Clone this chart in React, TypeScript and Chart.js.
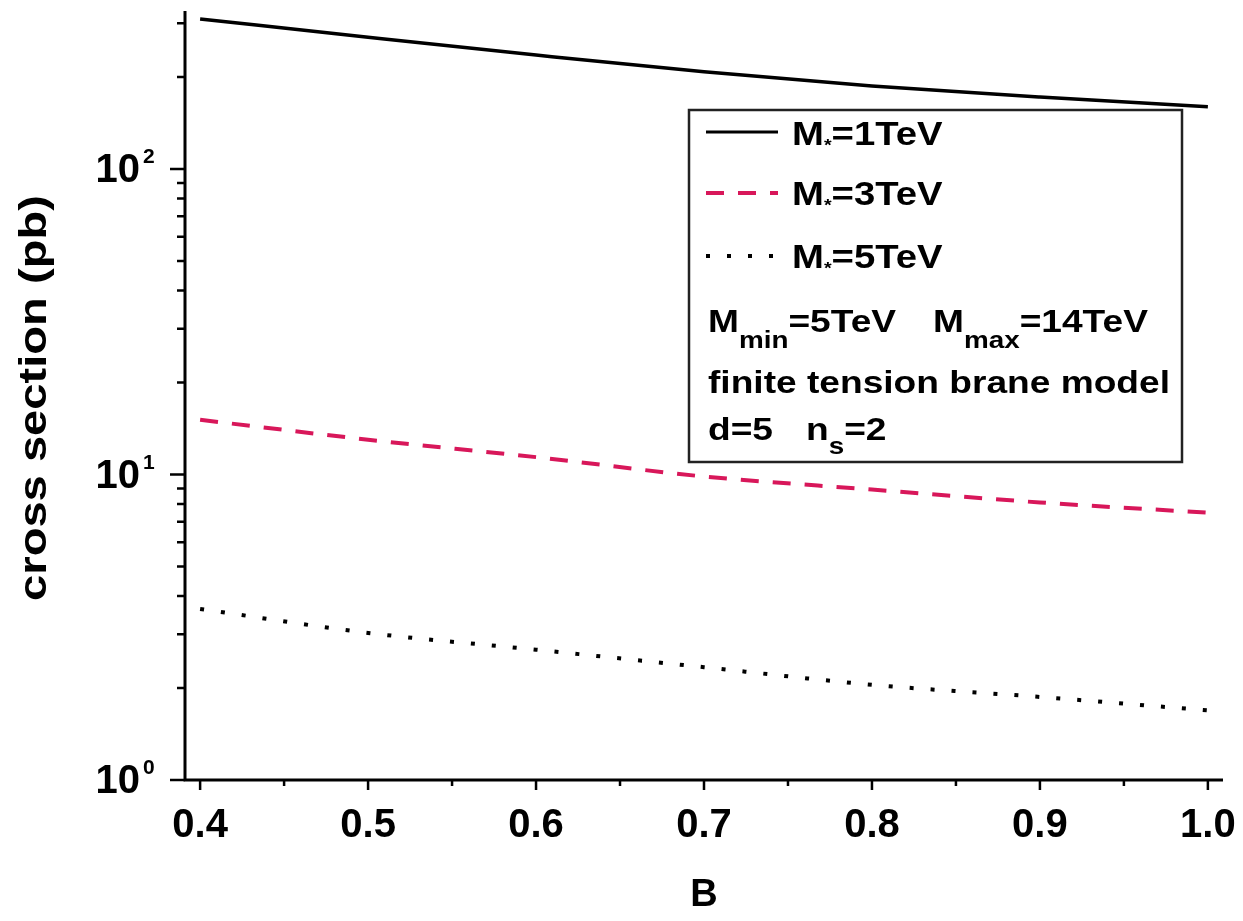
import React, { useEffect, useRef } from 'react';
import { Chart, registerables } from 'chart.js';

Chart.register(...registerables);

// ---- data ----
const bValues = [0.4, 0.5, 0.6, 0.7, 0.8, 0.9, 1.0];
const sigmaM1 = [310, 270, 236, 208, 187, 172, 160];
const sigmaM3 = [15.1, 13.0, 11.4, 9.85, 8.93, 8.1, 7.5];
const sigmaM5 = [3.63, 3.03, 2.67, 2.34, 2.05, 1.87, 1.69];

const xMin = 0.391;
const xMax = 1.009;
const yMin = 1;
const yMax = 329;

const xMajorTicks = [0.4, 0.5, 0.6, 0.7, 0.8, 0.9, 1.0];
const xMajorLabels = ['0.4', '0.5', '0.6', '0.7', '0.8', '0.9', '1.0'];
const xMinorTicks = [0.45, 0.55, 0.65, 0.75, 0.85, 0.95];
const yDecades = [1, 10, 100];
const yDecadeExponents = ['0', '1', '2'];
const ySignificands = [1, 2, 3, 4, 5, 6, 7, 8, 9];

const xTitle = 'B';
const yTitle = 'cross section (pb)';
const seriesNames = ['=1TeV', '=3TeV', '=5TeV'];

const FONT = '"Liberation Sans", Arial, Helvetica, sans-serif';

function drawRun(ctx: CanvasRenderingContext2D, x: number, baseline: number, sx: number, parts: { t: string; size: number; dy?: number }[]) {
  ctx.save();
  ctx.translate(x, baseline);
  ctx.scale(sx, 1);
  let cx = 0;
  for (const p of parts) {
    ctx.font = `bold ${p.size}px ${FONT}`;
    ctx.textAlign = 'left';
    ctx.textBaseline = 'alphabetic';
    ctx.fillText(p.t, cx, p.dy || 0);
    cx += ctx.measureText(p.t).width;
  }
  ctx.restore();
}

const decorPlugin = {
  id: 'decor',
  afterDraw(chart: any) {
    const ctx: CanvasRenderingContext2D = chart.ctx;
    const xs = chart.scales.x;
    const ys = chart.scales.y;
    const ca = chart.chartArea;
    ctx.save();
    ctx.strokeStyle = '#000';
    ctx.fillStyle = '#000';

    // axes
    ctx.lineWidth = 3;
    ctx.beginPath();
    ctx.moveTo(ca.left, ca.top);
    ctx.lineTo(ca.left, ca.bottom + 1.5);
    ctx.moveTo(ca.left - 1.5, ca.bottom);
    ctx.lineTo(ca.right, ca.bottom);
    ctx.stroke();

    // y ticks
    ctx.lineWidth = 2.5;
    ctx.beginPath();
    for (const d of yDecades) {
      for (const s of ySignificands) {
        const v = s * d;
        if (v > yMax) break;
        const py = ys.getPixelForValue(v);
        const len = s === 1 ? 15 : 8;
        ctx.moveTo(ca.left, py);
        ctx.lineTo(ca.left - len, py);
      }
    }
    // x ticks
    for (const v of xMajorTicks) {
      const px = xs.getPixelForValue(v);
      ctx.moveTo(px, ca.bottom);
      ctx.lineTo(px, ca.bottom + 10);
    }
    for (const v of xMinorTicks) {
      const px = xs.getPixelForValue(v);
      ctx.moveTo(px, ca.bottom);
      ctx.lineTo(px, ca.bottom + 6);
    }
    ctx.stroke();

    // x tick labels
    ctx.font = `bold 40px ${FONT}`;
    ctx.textAlign = 'center';
    ctx.textBaseline = 'middle';
    xMajorTicks.forEach((v, i) => {
      ctx.fillText(xMajorLabels[i], xs.getPixelForValue(v), ca.bottom + 46);
    });

    // y tick labels 10^n
    yDecades.forEach((d, i) => {
      const py = ys.getPixelForValue(d);
      ctx.font = `bold 40px ${FONT}`;
      ctx.textAlign = 'right';
      ctx.textBaseline = 'middle';
      ctx.fillText('10', 140, py + 2);
      ctx.font = `bold 21px ${FONT}`;
      ctx.textAlign = 'left';
      ctx.textBaseline = 'top';
      ctx.fillText(yDecadeExponents[i], 143, py - 22);
    });

    // y title
    ctx.save();
    ctx.translate(46, 398);
    ctx.rotate(-Math.PI / 2);
    ctx.scale(1.24, 1);
    ctx.font = `bold 38px ${FONT}`;
    ctx.textAlign = 'center';
    ctx.textBaseline = 'alphabetic';
    ctx.fillText(yTitle, 0, 0);
    ctx.restore();

    // legend box
    ctx.lineWidth = 2.5;
    ctx.strokeStyle = '#222';
    ctx.strokeRect(689, 110, 493, 352);

    // legend samples
    const sampleY = [132, 193, 256];
    const styles = [
      { c: '#000', w: 3, d: [] as number[] },
      { c: '#d8175a', w: 4, d: [18, 14] },
      { c: '#000', w: 4, d: [4, 17] },
    ];
    styles.forEach((st, i) => {
      ctx.beginPath();
      ctx.strokeStyle = st.c;
      ctx.lineWidth = st.w;
      ctx.setLineDash(st.d);
      ctx.moveTo(706, sampleY[i]);
      ctx.lineTo(778, sampleY[i]);
      ctx.stroke();
    });
    ctx.setLineDash([]);

    const sx = 1.16;
    const baselines = [145, 205, 268];
    seriesNames.forEach((nm, i) => {
      drawRun(ctx, 792, baselines[i], sx, [
        { t: 'M', size: 33 },
        { t: '*', size: 17, dy: 6 },
        { t: nm, size: 33 },
      ]);
    });
    drawRun(ctx, 708, 332, sx, [
      { t: 'M', size: 32 },
      { t: 'min', size: 24, dy: 16 },
      { t: '=5TeV', size: 32 },
    ]);
    drawRun(ctx, 933, 332, sx, [
      { t: 'M', size: 32 },
      { t: 'max', size: 24, dy: 16 },
      { t: '=14TeV', size: 32 },
    ]);
    drawRun(ctx, 708, 393, sx, [{ t: 'finite tension brane model', size: 32 }]);
    drawRun(ctx, 708, 440, sx, [{ t: 'd=5', size: 32 }]);
    drawRun(ctx, 806, 440, sx, [
      { t: 'n', size: 32 },
      { t: 's', size: 24, dy: 14 },
      { t: '=2', size: 32 },
    ]);

    ctx.restore();
  },
};

export default function App() {
  const ref = useRef<HTMLCanvasElement | null>(null);
  useEffect(() => {
    if (!ref.current) return;
    const mk = (ys: number[]) => bValues.map((x, i) => ({ x, y: ys[i] }));
    const chart = new Chart(ref.current, {
      type: 'line',
      data: {
        datasets: [
          { label: 'M*=1TeV', data: mk(sigmaM1), borderColor: '#000', borderWidth: 3.5, pointRadius: 0, cubicInterpolationMode: 'monotone', fill: false },
          { label: 'M*=3TeV', data: mk(sigmaM3), borderColor: '#d8175a', borderWidth: 4, borderDash: [18, 14], pointRadius: 0, cubicInterpolationMode: 'monotone', fill: false },
          { label: 'M*=5TeV', data: mk(sigmaM5), borderColor: '#000', borderWidth: 4, borderDash: [4, 17], pointRadius: 0, cubicInterpolationMode: 'monotone', fill: false },
        ],
      },
      options: {
        animation: false,
        responsive: false,
        devicePixelRatio: 1,
        layout: { padding: { left: 0, top: 11, right: 20, bottom: 0 } },
        plugins: { legend: { display: false }, tooltip: { enabled: false } },
        scales: {
          x: {
            type: 'linear',
            min: xMin,
            max: xMax,
            grid: { display: false, drawTicks: false },
            border: { display: false },
            ticks: { display: false },
            title: {
              display: true,
              text: xTitle,
              color: '#000',
              font: { family: FONT, size: 38, weight: 'bold', lineHeight: 1 },
              padding: { top: 0, bottom: 6 },
            },
            afterFit: (s: any) => { s.height = 141; },
          },
          y: {
            type: 'logarithmic',
            min: yMin,
            max: yMax,
            grid: { display: false, drawTicks: false },
            border: { display: false },
            ticks: { display: false },
            afterFit: (s: any) => { s.width = 185; },
          },
        },
      },
      plugins: [decorPlugin],
    } as any);
    return () => chart.destroy();
  }, []);
  return (
    <div style={{ position: 'fixed', left: 0, top: 0, width: 1243, height: 921, background: '#fff' }}>
      <canvas ref={ref} width={1243} height={921} />
    </div>
  );
}
